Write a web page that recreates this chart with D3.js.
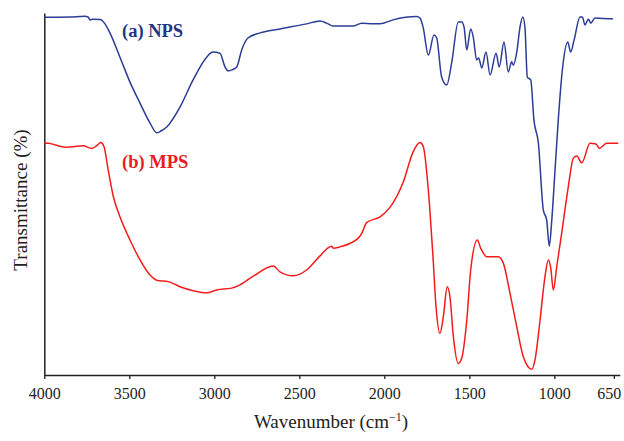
<!DOCTYPE html>
<html>
<head>
<meta charset="utf-8">
<script src="https://cdn.jsdelivr.net/npm/d3@7"></script>
<style>
  body { margin: 0; background: #fff; }
  svg { display: block; }
</style>
</head>
<body>
<div id="chart"></div>
<script>
// wavenumber (cm-1) / transmittance (arbitrary %)
const npsWn = [4000, 3849, 3761, 3743, 3731, 3714, 3672, 3643, 3614, 3555, 3496, 3437, 3378, 3339, 3314, 3280,
  3202, 3125, 3045, 3008, 2967, 2937, 2919, 2896, 2868, 2839, 2802, 2731, 2614, 2457, 2378, 2339, 2302, 2184,
  2133, 2067, 2025, 1949, 1810, 1790, 1772, 1741, 1708, 1692, 1663, 1633, 1604, 1565, 1545, 1531, 1515, 1492,
  1477, 1457, 1445, 1427, 1402, 1378, 1343, 1324, 1296, 1271, 1251, 1241, 1221, 1202, 1186, 1173, 1159, 1139,
  1120, 1094, 1065, 1045, 1030, 1015, 996, 977, 951, 921, 904, 884, 849, 835, 820, 800, 786, 761, 663, 655];
const npsT = [98.8, 98.9, 99.1, 98.9, 98.1, 98.3, 98.2, 97.0, 94.5, 87.8, 80.9, 75.1, 69.6, 66.9, 67.4, 68.5,
  74.0, 81.5, 87.8, 89.2, 88.9, 85.1, 84.0, 84.3, 85.1, 89.8, 93.1, 94.5, 95.6, 97.0, 97.8, 97.2, 96.4, 96.4,
  97.2, 97.0, 97.0, 98.1, 99.0, 98.6, 96.1, 88.4, 93.9, 93.1, 82.3, 80.1, 86.2, 97.5, 97.5, 96.1, 89.8, 95.6,
  93.4, 87.0, 87.6, 84.8, 89.2, 82.9, 88.9, 85.1, 92.0, 83.7, 86.5, 85.6, 89.2, 96.1, 98.9, 96.1, 82.3, 81.5,
  70.4, 64.1, 45.6, 42.8, 35.6, 42.8, 56.6, 70.4, 85.1, 92.0, 89.2, 92.5, 98.9, 98.9, 96.7, 98.3, 97.2, 98.6, 98.4, 98.4];

const mpsWn = [4000, 3976, 3868, 3772, 3721, 3688, 3668, 3649, 3624, 3594, 3555, 3496, 3437, 3378, 3339, 3271,
  3202, 3124, 3045, 2986, 2898, 2849, 2771, 2653, 2614, 2535, 2457, 2378, 2310, 2300, 2261, 2153, 2133, 2104,
  2025, 1967, 1888, 1830, 1790, 1771, 1735, 1715, 1696, 1673, 1653, 1630, 1614, 1594, 1565, 1545, 1515, 1492,
  1453, 1433, 1398, 1330, 1300, 1261, 1221, 1183, 1133, 1114, 1084, 1055, 1035, 1021, 1006, 986, 957, 918,
  888, 868, 839, 790, 755, 735, 692, 624];
const mpsT = [64.1, 64.0, 62.9, 63.3, 62.6, 63.5, 64.2, 63.1, 56.6, 49.3, 43.7, 37.3, 31.8, 27.6, 26.2, 25.8,
  24.4, 23.3, 22.7, 23.5, 24.0, 24.9, 27.3, 30.1, 28.5, 27.4, 29.0, 32.9, 35.6, 35.0, 35.4, 37.8, 39.1, 42.1,
  43.7, 46.3, 53.4, 61.7, 64.2, 63.1, 47.4, 33.6, 18.9, 11.5, 16.1, 24.4, 21.6, 10.6, 3.2, 4.6, 15.2, 29.0,
  37.3, 35.0, 32.7, 32.7, 30.9, 22.6, 13.3, 5.1, 1.6, 4.1, 15.2, 27.2, 31.8, 29.5, 23.5, 29.9, 39.1, 52.0,
  59.9, 60.5, 58.6, 64.0, 63.8, 62.6, 64.0, 64.0];

const xTicks = [4000, 3500, 3000, 2500, 2000, 1500, 1000, 650];

const W = 624, H = 441;
const svg = d3.select("#chart").append("svg")
  .attr("width", W)
  .attr("height", H);

const x = d3.scaleLinear().domain([4000, 615]).range([44.3, 619.8]);
const y = d3.scaleLinear().domain([0, 100]).range([375, 13]);

// axes
const xAxis = svg.append("g")
  .attr("transform", "translate(0,375)")
  .call(d3.axisBottom(x).tickValues(xTicks).tickFormat(d3.format("d")).tickSize(4).tickSizeOuter(0).tickPadding(9));
xAxis.select(".domain").attr("stroke", "#222").attr("stroke-width", 1.5);
xAxis.selectAll(".tick line").attr("stroke", "#222").attr("stroke-width", 1.3);
xAxis.selectAll("text")
  .attr("fill", "#222")
  .style("font-family", "'Liberation Serif', 'Times New Roman', serif")
  .style("font-size", "16px");
// last label sits against the right edge
xAxis.selectAll(".tick text").filter(function(d) { return d === 650; }).attr("dx", -5);

const yAxis = svg.append("g")
  .attr("transform", "translate(44.3,0)")
  .call(d3.axisLeft(y).tickValues([]).tickSizeOuter(0));
yAxis.select(".domain").attr("stroke", "#222").attr("stroke-width", 1.5);

// spectra
const line = d3.line()
  .x(function(d) { return x(d[0]); })
  .y(function(d) { return y(d[1]); })
  .curve(d3.curveMonotoneX);

svg.append("path")
  .datum(d3.zip(npsWn, npsT))
  .attr("fill", "none")
  .attr("stroke", "#2B3D96")
  .attr("stroke-width", 1.5)
  .attr("d", line);

svg.append("path")
  .datum(d3.zip(mpsWn, mpsT))
  .attr("fill", "none")
  .attr("stroke", "#F31B1B")
  .attr("stroke-width", 1.5)
  .attr("d", line);

// labels
svg.append("text")
  .attr("x", 122).attr("y", 37)
  .attr("fill", "#1F3687")
  .style("font-family", "'Liberation Serif', 'Times New Roman', serif")
  .style("font-weight", "bold")
  .style("font-size", "18.5px")
  .text("(a) NPS");

svg.append("text")
  .attr("x", 122).attr("y", 168)
  .attr("fill", "#EA1C24")
  .style("font-family", "'Liberation Serif', 'Times New Roman', serif")
  .style("font-weight", "bold")
  .style("font-size", "18.5px")
  .text("(b) MPS");

// axis titles
const xt = svg.append("text")
  .attr("x", 331).attr("y", 428)
  .attr("text-anchor", "middle")
  .attr("fill", "#222")
  .style("font-family", "'Liberation Serif', 'Times New Roman', serif")
  .style("font-size", "19px");
xt.append("tspan").text("Wavenumber  (cm");
xt.append("tspan").attr("dy", -7).style("font-size", "12px").text("\u22121");
xt.append("tspan").attr("dy", 7).text(")");

svg.append("text")
  .attr("transform", "translate(27,200) rotate(-90)")
  .attr("text-anchor", "middle")
  .attr("fill", "#222")
  .style("font-family", "'Liberation Serif', 'Times New Roman', serif")
  .style("font-size", "19px")
  .text("Transmittance  (%)");
</script>
</body>
</html>
